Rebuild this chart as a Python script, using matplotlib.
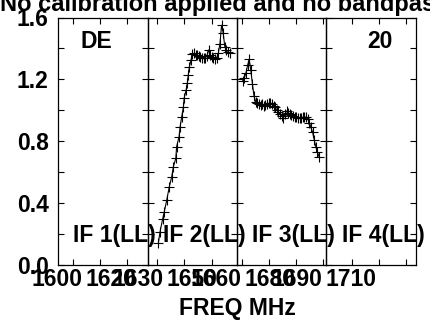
import matplotlib
matplotlib.use('Agg')
import matplotlib.pyplot as plt
import matplotlib.transforms as mtransforms
from matplotlib.ticker import FixedLocator, MultipleLocator, FormatStrFormatter

plt.rcParams['font.family'] = ['Liberation Sans', 'DejaVu Sans']
plt.rcParams['font.weight'] = 'bold'

# one panel per IF, each with its own frequency window (MHz)
if_names = ['IF 1(LL)', 'IF 2(LL)', 'IF 3(LL)', 'IF 4(LL)']
if_start = [1594.5, 1626.4, 1658.3, 1690.7]
if_width = 33.0
freq_labels = [[1600, 1620], [1630, 1650], [1660, 1680, 1690], [1710]]

# IF 2 spectrum
if2_freq = [1630.35, 1630.98, 1631.97, 1632.56, 1633.45, 1634.4, 1635.3, 1635.9,
            1636.8, 1637.1, 1638.0, 1638.4, 1639.0, 1639.6, 1639.9, 1640.6,
            1641.05, 1641.4, 1641.8, 1642.4, 1642.9, 1643.5, 1644.1, 1644.7,
            1645.3, 1645.9, 1646.5, 1647.1, 1647.7, 1648.3, 1648.9, 1649.5,
            1650.1, 1650.7, 1651.3, 1651.9, 1652.5, 1653.1, 1653.7, 1654.3,
            1654.9, 1655.5, 1656.1, 1656.7]
if2_amp = [0.14, 0.215, 0.30, 0.345, 0.42, 0.506, 0.571, 0.635,
           0.69, 0.765, 0.83, 0.894, 0.96, 1.02, 1.08, 1.13,
           1.175, 1.228, 1.28, 1.325, 1.364, 1.368, 1.36, 1.355,
           1.35, 1.345, 1.34, 1.336, 1.34, 1.35, 1.39, 1.36,
           1.345, 1.335, 1.33, 1.34, 1.37, 1.43, 1.55, 1.50,
           1.41, 1.39, 1.38, 1.37]

# IF 3 spectrum
if3_freq = [1660.4, 1661.0, 1661.6, 1662.2, 1662.8, 1663.4, 1664.0, 1664.6,
            1665.2, 1665.8, 1666.4, 1667.0, 1667.6, 1668.2, 1668.8, 1669.4,
            1670.0, 1670.6, 1671.2, 1671.8, 1672.4, 1673.0, 1673.6, 1674.2,
            1674.8, 1675.4, 1676.0, 1676.6, 1677.2, 1677.8, 1678.4, 1679.0,
            1679.6, 1680.2, 1680.8, 1681.4, 1682.0, 1682.6, 1683.2, 1683.8,
            1684.4, 1685.0, 1685.6, 1686.2, 1686.8, 1687.4, 1688.0, 1688.6]
if3_amp = [1.19, 1.21, 1.24, 1.29, 1.33, 1.26, 1.17, 1.09,
           1.056, 1.045, 1.04, 1.035, 1.04, 1.03, 1.035, 1.04,
           1.045, 1.05, 1.04, 1.03, 1.02, 1.00, 0.99, 0.975,
           0.965, 0.95, 0.975, 0.995, 0.985, 0.975, 0.97, 0.963,
           0.958, 0.955, 0.95, 0.948, 0.952, 0.955, 0.958, 0.955,
           0.945, 0.92, 0.89, 0.86, 0.81, 0.765, 0.73, 0.70]

spectra = [([], []), (if2_freq, if2_amp), (if3_freq, if3_amp), ([], [])]

fs = 16.5
fig = plt.figure(figsize=(4.3, 3.22), dpi=100)
fig.patch.set_facecolor('white')

left, bottom, width, height = 58.3 / 430, 57 / 322, 89.35 / 430, 247.5 / 322
label_shift = [9, 6, 0, -2]   # px nudge of the frequency labels in each panel

for i in range(4):
    ax = fig.add_axes([left + i * width, bottom, width, height])
    ax.set_facecolor('none')
    f, a = spectra[i]
    if f:
        ax.plot(f, a, color='k', lw=0.8, marker='+', ms=7, mew=0.8)
    ax.set_xlim(if_start[i], if_start[i] + if_width)
    ax.set_ylim(0, 1.6)

    ax.xaxis.set_major_locator(FixedLocator(freq_labels[i]))
    ax.xaxis.set_minor_locator(MultipleLocator(10))
    ax.yaxis.set_major_locator(MultipleLocator(0.4))
    ax.yaxis.set_minor_locator(MultipleLocator(0.2))
    ax.yaxis.set_major_formatter(FormatStrFormatter('%.1f'))
    ax.tick_params(axis='both', which='both', direction='in', top=True, right=True,
                   length=4.5, width=0.8, labelsize=fs, colors='k')
    ax.tick_params(axis='x', pad=2)
    ax.tick_params(axis='y', pad=7, labelleft=(i == 0))

    shift = mtransforms.ScaledTranslation(label_shift[i] / 100, 0, fig.dpi_scale_trans)
    for tick in ax.xaxis.get_major_ticks():
        tick.label1.set_transform(tick.label1.get_transform() + shift)
        tick.label1.set_horizontalalignment('right')
        tick.label1.set_fontweight('bold')
    for lab in ax.get_yticklabels():
        lab.set_fontweight('bold')
    for sp in ax.spines.values():
        sp.set_linewidth(0.9)

    ax.text(0.17, 0.12, if_names[i], transform=ax.transAxes, fontsize=fs,
            fontweight='bold', ha='left', va='center', clip_on=False, zorder=5)

    if i == 0:
        ax.text(0.243, 0.905, 'DE', transform=ax.transAxes, fontsize=fs,
                fontweight='bold', ha='left', va='center')
    if i == 3:
        ax.text(0.745, 0.905, '20', transform=ax.transAxes, fontsize=fs,
                fontweight='bold', ha='right', va='center')

fig.text(237 / 430, 1 - 309 / 322, 'FREQ MHz', fontsize=fs, fontweight='bold',
         ha='center', va='center')
fig.text(0.0, 1 - 11.5 / 322, 'No calibration applied and no bandpass',
         fontsize=17, fontweight='bold', ha='left', va='baseline')

fig.savefig('out.png', dpi=100)
